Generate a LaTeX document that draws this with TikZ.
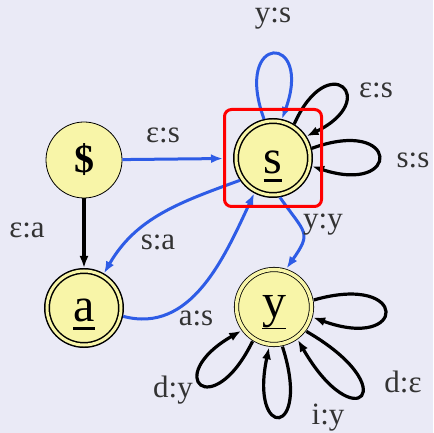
\documentclass[tikz,border=0pt]{standalone}
\usepackage{fontspec}
\setmainfont{Liberation Serif}
\newfontfamily\diagfont{Liberation Serif}
\usetikzlibrary{arrows.meta}
\definecolor{bgcol}{HTML}{EAEAF6}
\definecolor{statefill}{HTML}{F8F5A8}
\definecolor{edgeblue}{HTML}{2E5CE6}
\definecolor{labelgray}{HTML}{333333}
\newcommand{\ulet}[3]{\vtop{\hbox{#3}\kern#2\hrule height #1}}
\tikzset{
  plainst/.style={circle,draw,fill=statefill,line width=0.8pt,inner sep=0pt,minimum size=76pt,
    font=\diagfont\fontsize{40}{40}\selectfont\bfseries},
  finalst/.style={circle,draw,double=statefill,double distance=3pt,line width=1.5pt,fill=statefill,
    inner sep=0pt,outer sep=3pt,minimum size=74pt,font=\diagfont\fontsize{48}{48}\selectfont},
  thinfinal/.style={finalst,line width=0.8pt,double distance=3.5pt,minimum size=75pt},
  blueedge/.style={draw=edgeblue,line width=3pt,-{Latex[length=12pt,width=9pt]}},
  blackedge/.style={draw=black,line width=3.2pt,-{Latex[length=12pt,width=9pt]}},
  tlabel/.style={text=labelgray,font=\diagfont\fontsize{31}{31}\selectfont},
  hilite/.style={draw=red,line width=3pt,rounded corners=7pt,minimum size=97pt,inner sep=0pt}
}

\begin{document}
\begin{tikzpicture}[x=1pt,y=1pt]
  \fill[bgcol] (0,0) rectangle (433,433);
  \useasboundingbox (0,0) rectangle (433,433);

  \node[plainst] (dollar) at (84,273) {\$};
  \node[finalst,text height=40pt,text depth=8pt] (s) at (273,275) {\ulet{3pt}{5pt}{s}};
  \node[finalst,text height=36pt,text depth=8pt] (a) at (84,125) {\ulet{3pt}{5pt}{a}};
  \node[thinfinal,text height=31pt,text depth=9pt] (y) at (274,126) {\ulet{1pt}{0pt}{y}};

  % edges between states
  \draw[blueedge,shorten >=10pt] (dollar) -- (s);
  \draw[blackedge] (dollar) -- (a);
  \draw[blueedge] (s.214) to[out=200,in=60] (a.60);
  \draw[blueedge] (a.-12) to[out=-15,in=245] (s.242);
  \draw[blueedge] (s.-80) to[out=-55,in=55,looseness=1.6] (y.72);

  % loops on s
  \draw[blueedge] (s.103) to[out=110,in=70,min distance=92pt] (s.77);
  \draw[blackedge] (s.58) to[out=66,in=26,min distance=84pt] (s.33);
  \draw[blackedge] (s.14) to[out=20,in=-18,min distance=94pt] (s.-12);

  % loops on y
  \draw[blackedge] (y.10) to[out=16,in=-20,min distance=100pt] (y.-15);
  \draw[blackedge] (y.-37) to[out=-30,in=-60,min distance=115pt] (y.-54);
  \draw[blackedge] (y.-78) to[out=-72,in=-102,min distance=96pt] (y.-97);
  \draw[blackedge] (y.-122) to[out=-116,in=-150,min distance=92pt] (y.-144);

  \node[hilite] (shl) at (s) {};

  % transition labels
  \node[tlabel] (l-ys) at (273,414) {y:s};
  \node[tlabel] (l-es1) at (376,343) {ε:s};
  \node[tlabel] (l-ss) at (413,273) {s:s};
  \node[tlabel] (l-es2) at (163,298) {ε:s};
  \node[tlabel] (l-ea) at (27,203) {ε:a};
  \node[tlabel] (l-sa) at (158,191) {s:a};
  \node[tlabel] (l-yy) at (323,208) {y:y};
  \node[tlabel] (l-as) at (196,115) {a:s};
  \node[tlabel] (l-dy) at (173,43) {d:y};
  \node[tlabel] (l-iy) at (328,15) {i:y};
  \node[tlabel] (l-de) at (403,51) {d:ε};
\end{tikzpicture}
\end{document}
